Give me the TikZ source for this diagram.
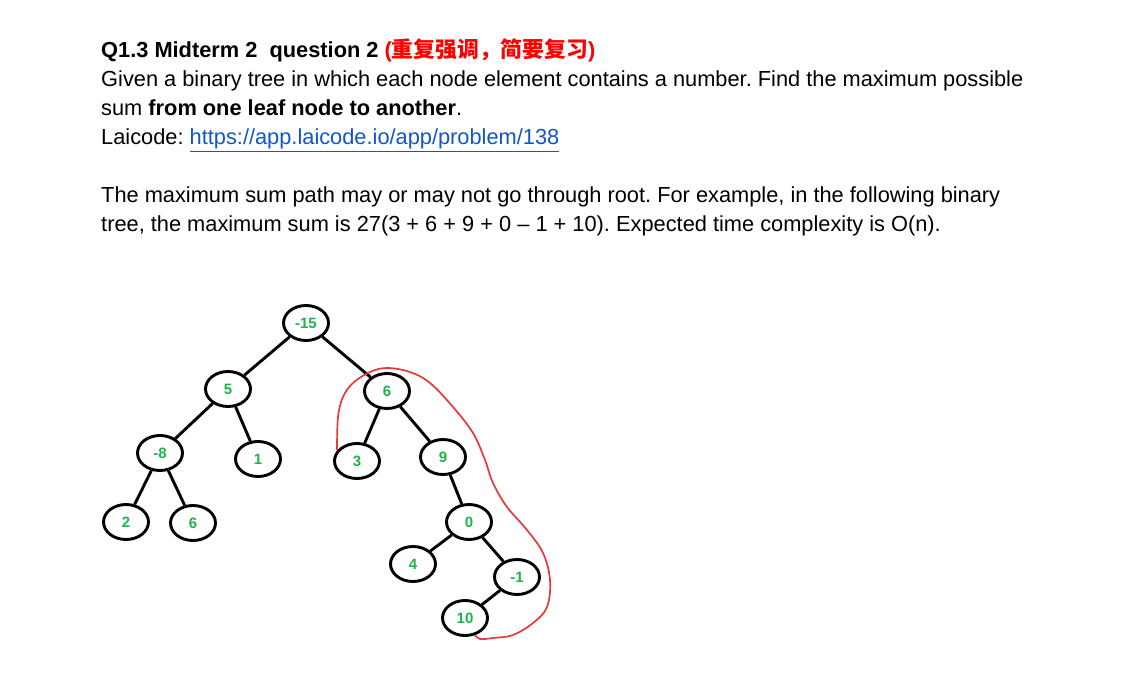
\documentclass[tikz,border=0pt]{standalone}
\usepackage{fontspec}
\setmainfont{Liberation Sans}
\newfontfamily\cjk{Noto Sans CJK SC}
\usetikzlibrary{shapes.geometric}
\definecolor{numgreen}{RGB}{34,177,76}
\definecolor{pathred}{RGB}{232,56,60}
\definecolor{linkblue}{RGB}{17,85,204}
\frenchspacing
\tikzstyle{textline} = [anchor=base west, inner sep=0pt, font=\fontsize{21.8}{26}\selectfont]
\tikzstyle{treenode} = [ellipse, draw=black, line width=2.9pt, minimum width=45pt, minimum height=35pt, inner sep=0pt, text=numgreen, font=\fontsize{15}{16}\selectfont\bfseries]
\tikzstyle{edge} = [line width=2.9pt]
\tikzstyle{maxpath} = [draw=pathred, line width=1.7pt]

\begin{document}
\begin{tikzpicture}[x=1pt, y=-1pt]
	\useasboundingbox (0,0) rectangle (1126,676);

	% question text
	\node (title) [textline, font=\fontsize{21.8}{26}\selectfont\bfseries] at (101,58) {Q1.3 Midterm 2\ \ question 2 \textcolor{red}{({\cjk 重复强调，简要复习})}};
	\node (given) [textline] at (101,87) {Given a binary tree in which each node element contains a number. Find the maximum possible};
	\node (sum) [textline] at (101,116) {sum \textbf{from one leaf node to another}.};
	\node (laicode) [textline] at (101,145) {Laicode: \textcolor{linkblue}{\underline{https://app.laicode.io/app/problem/138}}};
	\node (remark) [textline] at (101,203) {The maximum sum path may or may not go through root. For example, in the following binary};
	\node (example) [textline] at (101,232) {tree, the maximum sum is 27(3 + 6 + 9 + 0 -- 1 + 10). Expected time complexity is O(n).};

	% the tree
	\node (root) [treenode] at (306,323) {-15};
	\node (five) [treenode] at (228,389) {5};
	\node (minuseight) [treenode] at (160,453) {-8};
	\node (one) [treenode] at (258,459) {1};
	\node (two) [treenode] at (126,522) {2};
	\node (sixleft) [treenode] at (193,523) {6};
	\node (sixright) [treenode] at (387,391) {6};
	\node (three) [treenode] at (357,461) {3};
	\node (nine) [treenode] at (443,457) {9};
	\node (zero) [treenode] at (469,522) {0};
	\node (four) [treenode] at (413,564) {4};
	\node (minusone) [treenode] at (517,577) {-1};
	\node (ten) [treenode] at (465,618) {10};

	\draw [edge] (root) -- (five);
	\draw [edge] (root) -- (sixright);
	\draw [edge] (five) -- (minuseight);
	\draw [edge] (five) -- (one);
	\draw [edge] (minuseight) -- (two);
	\draw [edge] (minuseight) -- (sixleft);
	\draw [edge] (sixright) -- (three);
	\draw [edge] (sixright) -- (nine);
	\draw [edge] (nine) -- (zero);
	\draw [edge] (zero) -- (four);
	\draw [edge] (zero) -- (minusone);
	\draw [edge] (minusone) -- (ten);

	% hand drawn loop round the best path
	\draw [maxpath] plot [smooth, tension=0.6] coordinates {(337,450) (338,417) (343,397) (353,383) (370,372) (387,368) (410,372) (430,383) (453,407) (473,433) (485,460) (493,483) (507,507) (527,530) (543,553) (550,580) (547,607) (533,623) (513,635) (493,638) (480,639) (475,635)};
\end{tikzpicture}
\end{document}
